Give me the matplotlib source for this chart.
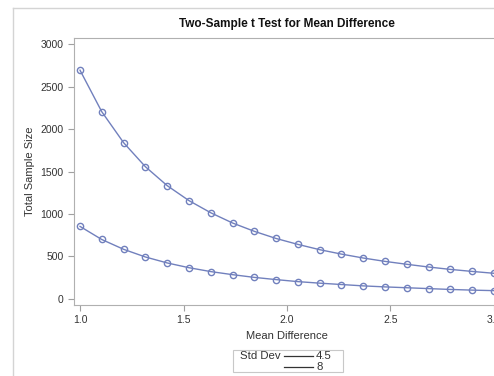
import matplotlib
matplotlib.use('Agg')
import matplotlib.pyplot as plt
from matplotlib.lines import Line2D
from matplotlib.patches import Rectangle

plt.rcParams['font.family'] = ['Liberation Sans', 'DejaVu Sans']

# mean differences (20 points from 1 to 3)
mean_diff = [1.0, 1.105, 1.211, 1.316, 1.421, 1.526, 1.632, 1.737, 1.842, 1.947,
             2.053, 2.158, 2.263, 2.368, 2.474, 2.579, 2.684, 2.789, 2.895, 3.0]
# total sample size, std dev 8 and 4.5
n_sd8 = [2692, 2204, 1838, 1556, 1334, 1158, 1014, 894, 796, 712,
         642, 580, 528, 482, 442, 408, 376, 348, 324, 302]
n_sd45 = [854, 700, 584, 494, 424, 368, 322, 286, 254, 228,
          204, 186, 170, 154, 142, 132, 122, 112, 104, 98]
legend_labels = ['4.5', '8']

W, H = 494, 376
fig = plt.figure(figsize=(W / 100, H / 100), dpi=100)

def fx(px):
    return px / W

def fy(py):
    return 1 - py / H

# outer frame lines
fig.add_artist(Line2D([fx(13), fx(13)], [0, fy(8)], color='#d4d4d4', lw=1))
fig.add_artist(Line2D([fx(13), 1], [fy(8), fy(8)], color='#d4d4d4', lw=1))

ax = fig.add_axes([fx(74), fy(305), fx(426), 267 / H])
col = '#7180bd'
for yv in (n_sd8, n_sd45):
    ax.plot(mean_diff, yv, color=col, lw=1.0, marker='o', ms=4.5,
            mfc='none', mec=col, mew=1)

ax.set_xlim(0.971, 3.029)
ax.set_ylim(-71, 3071)
ax.set_xticks([1.0, 1.5, 2.0, 2.5, 3.0])
ax.set_xticklabels(['1.0', '1.5', '2.0', '2.5', '3.0'])
ax.set_yticks([0, 500, 1000, 1500, 2000, 2500, 3000])
for s in ax.spines.values():
    s.set_color('#b0b0b0')
ax.spines['right'].set_visible(False)
ax.tick_params(colors='#a0a0a0', labelcolor='#333333', labelsize=7.5, length=4, width=0.8)

ax.set_xlabel('Mean Difference', fontsize=8, color='#333333', labelpad=4)
ax.set_ylabel('Total Sample Size', fontsize=8, color='#333333', labelpad=4)
fig.text(fx(287), fy(24), 'Two-Sample t Test for Mean Difference',
         ha='center', va='center', fontsize=8.5, fontweight='bold', color='#111111')

# legend box drawn by hand (title on the left, entries stacked)
fig.add_artist(Rectangle((fx(233), fy(372)), fx(343) - fx(233), fy(350) - fy(372),
                         transform=fig.transFigure, fill=False, ec='#c8c8c8', lw=0.8))
fig.text(fx(240), fy(356), 'Std Dev', fontsize=8.2, color='#333333', va='center', ha='left')
for i, lab in enumerate(legend_labels):
    yy = 356 + i * 10.5
    fig.add_artist(Line2D([fx(284), fx(313)], [fy(yy), fy(yy)], color='#333333', lw=0.9))
    fig.text(fx(316), fy(yy), lab, fontsize=8.2, color='#333333', va='center', ha='left')

fig.savefig('out.png', dpi=100)
